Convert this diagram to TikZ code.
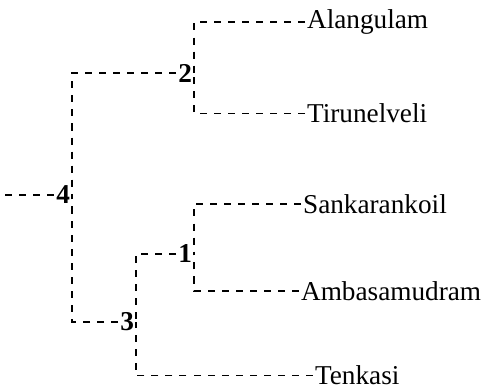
\documentclass[tikz,border=0pt]{standalone}
\usepackage{fontspec}
\setmainfont{Liberation Serif}
\begin{document}
\begin{tikzpicture}
			[leaf/.style={anchor=west,inner sep=1pt,font=\fontsize{15.5}{18}\selectfont},
			num/.style={anchor=east,inner sep=1pt,font=\fontsize{15.5}{18}\selectfont\bfseries},
			link/.style={dashed,dash pattern=on 4pt off 4pt,line width=0.8pt}]
			\useasboundingbox (0,0) rectangle (9.66,7.82);
			\node[leaf,name=alang] at (6.10,7.38) {Alangulam};
			\node[leaf,name=tirun] at (6.10,5.55) {Tirunelveli};
			\node[leaf,name=sanka] at (6.02,3.74) {Sankarankoil};
			\node[leaf,name=ambas] at (5.98,2.00) {Ambasamudram};
			\node[leaf,name=tenka] at (6.26,0.31) {Tenkasi};
			\node[num,name=n2] at (3.88,6.36) {2};
			\node[num,name=n4] at (1.44,3.92) {4};
			\node[num,name=n1] at (3.88,2.74) {1};
			\node[num,name=n3] at (2.72,1.38) {3};
			\coordinate (root) at (0.10,3.92);
			\draw[link](alang.west)-|(n2.east);
			\draw[link](tirun.west)-|(n2.east);
			\draw[link](sanka.west)-|(n1.east);
			\draw[link](ambas.west)-|(n1.east);
			\draw[link](n1.west)-|(n3.east);
			\draw[link](tenka.west)-|(n3.east);
			\draw[link](n2.west)-|(n4.east);
			\draw[link](n3.west)-|(n4.east);
			\draw[link](root)--(n4.west);
		\end{tikzpicture}
\end{document}
